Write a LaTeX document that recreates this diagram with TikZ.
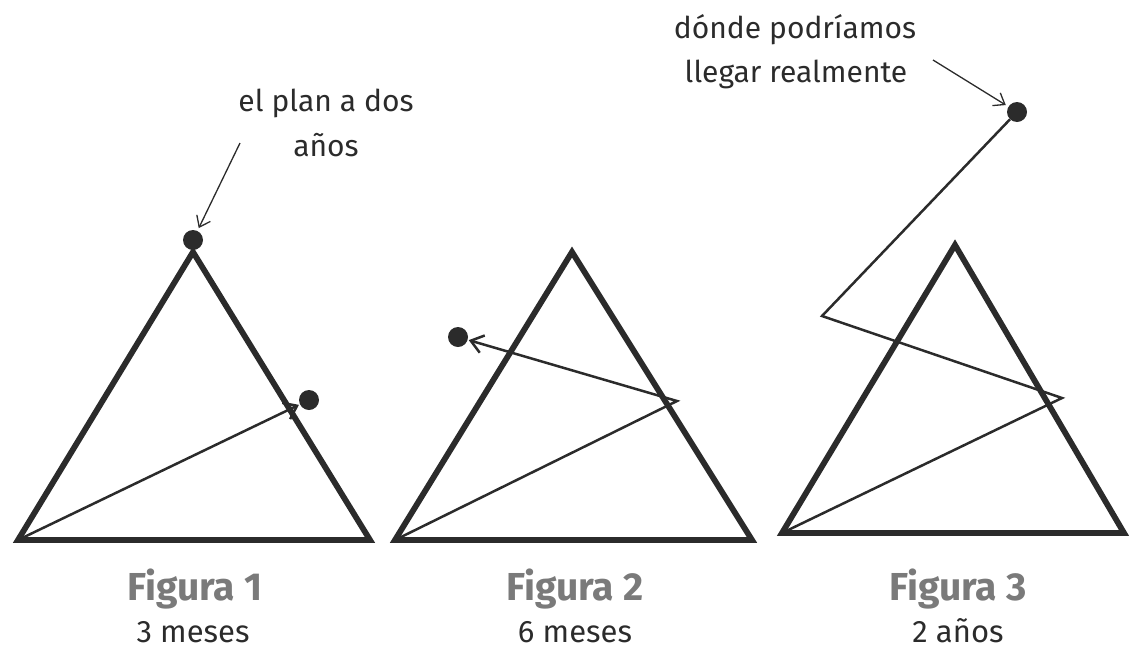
\documentclass[tikz,border=0pt]{standalone}
\usepackage{fontspec}
\setmainfont{Fira Sans}
\usepackage{xcolor}
\usepackage{tikz}
\usetikzlibrary{arrows.meta}

\definecolor{ink}{HTML}{2B2B2B}
\definecolor{capgray}{HTML}{7A7A7A}

\tikzset{
    tri/.style = {draw = ink, line width = 5.8pt},
    route/.style = {draw = ink, line width = 2.5pt},
    pointer/.style = {draw = ink, line width = 1.3pt,
        -{Straight Barb[length = 10pt, width = 15pt, line width = 1.3pt]}},
    goal/.style = {circle, fill = ink, inner sep = 0pt, minimum size = 20pt},
    note/.style = {text = ink, anchor = base, font = \fontsize{30}{36}\selectfont},
    figtitle/.style = {text = capgray, anchor = base, font = \fontsize{39}{44}\selectfont\bfseries},
    figsub/.style = {text = ink, anchor = base, inner sep = 1pt, font = \fontsize{31}{36}\selectfont}
}

\begin{document}
\begin{tikzpicture}[x = 1pt, y = -1pt]
        \useasboundingbox (0, 0) rectangle (1130, 654);

        % figura 1
        \coordinate (a1) at (18, 540);
        \coordinate (b1) at (370, 540);
        \coordinate (c1) at (193, 252);
        \draw[tri] (a1) -- (b1) -- (c1) -- cycle;
        \node[goal] (top1) at (193, 240) {};
        \node[goal] (end1) at (309, 400) {};
        \draw[route, -{Straight Barb[length = 12pt, width = 18pt]}, shorten > = 1pt] (a1) -- (end1);
        \node[note] (plan1) at (326, 111) {el plan a dos};
        \node[note] (plan2) at (326, 156) {años};
        \coordinate (p1) at (240, 143);
        \draw[pointer, shorten > = 3pt] (p1) -- (top1);
        \node[figtitle] (fig1) at (195, 600) {Figura 1};
        \node[figsub] (sub1) at (193, 642) {3 meses};

        % figura 2
        \coordinate (a2) at (395, 540);
        \coordinate (b2) at (752, 540);
        \coordinate (c2) at (572, 252);
        \draw[tri] (a2) -- (b2) -- (c2) -- cycle;
        \coordinate (k2) at (677, 401);
        \node[goal] (end2) at (458, 337) {};
        \draw[route, -{Straight Barb[length = 12pt, width = 18pt]}, shorten > = 1pt] (a2) -- (k2) -- (end2);
        \node[figtitle] (fig2) at (575, 600) {Figura 2};
        \node[figsub] (sub2) at (575, 642) {6 meses};

        % figura 3
        \coordinate (a3) at (782, 533);
        \coordinate (b3) at (1124, 533);
        \coordinate (c3) at (955, 245);
        \draw[tri] (a3) -- (b3) -- (c3) -- cycle;
        \coordinate (k3) at (1062, 398);
        \coordinate (m3) at (822, 316);
        \node[goal] (end3) at (1017, 112) {};
        \draw[route] (a3) -- (k3) -- (m3) -- (end3);
        \node[note] (real1) at (795, 38) {dónde podríamos};
        \node[note] (real2) at (796, 82) {llegar realmente};
        \coordinate (p3) at (933, 60);
        \draw[pointer, shorten > = 3pt] (p3) -- (end3);
        \node[figtitle] (fig3) at (958, 600) {Figura 3};
        \node[figsub] (sub3) at (958, 642) {2 años};
    \end{tikzpicture}
\end{document}
